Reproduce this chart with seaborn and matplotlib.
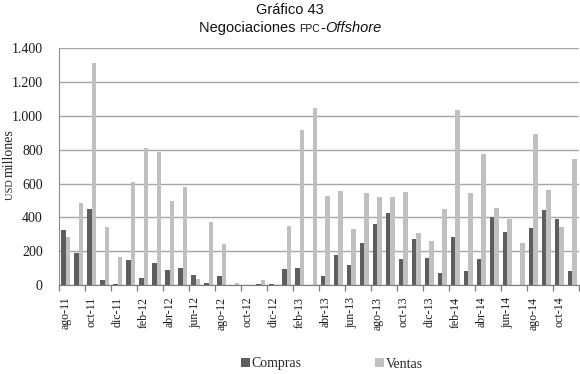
import matplotlib
matplotlib.use("Agg")
import matplotlib.pyplot as plt
import seaborn as sns
import pandas as pd
import numpy as np
from matplotlib.ticker import FixedLocator, FuncFormatter

months = ["ago-11","sep-11","oct-11","nov-11","dic-11","ene-12","feb-12","mar-12","abr-12","may-12",
          "jun-12","jul-12","ago-12","sep-12","oct-12","nov-12","dic-12","ene-13","feb-13","mar-13",
          "abr-13","may-13","jun-13","jul-13","ago-13","sep-13","oct-13","nov-13","dic-13","ene-14",
          "feb-14","mar-14","abr-14","may-14","jun-14","jul-14","ago-14","sep-14","oct-14","nov-14"]
compras = [325,191,447,28,6,148,41,128,87,98,57,10,53,0,0,6,8,93,102,0,
           53,177,116,246,359,425,152,274,158,71,282,81,152,402,313,0,335,441,388,81]
ventas = [284,483,1316,343,164,607,808,784,494,579,38,370,240,14,0,30,0,349,916,1044,
          524,554,331,542,518,522,548,307,260,447,1038,544,774,457,388,250,896,561,345,747]
series_names = ["Compras", "Ventas"]
y_ticks = [0, 200, 400, 600, 800, 1000, 1200, 1400]

sns.set_style("white")
plt.rcParams['font.family'] = ['Liberation Serif', 'DejaVu Serif']

df = pd.DataFrame({
    "mes": months * 2,
    "valor": compras + ventas,
    "serie": [series_names[0]] * len(months) + [series_names[1]] * len(months),
})

W, H = 580, 374
fig = plt.figure(figsize=(W / 100, H / 100), dpi=100)
ax = fig.add_axes([59.3 / W, 1 - 285 / H, (578.7 - 59.3) / W, (285 - 48.3) / H])

sns.barplot(data=df, x="mes", y="valor", hue="serie", order=months, hue_order=series_names,
            palette={"Compras": "#5e5e5e", "Ventas": "#c0c0c0"}, saturation=1, width=0.7,
            linewidth=0, ax=ax, legend=True)
handles, labels = ax.get_legend_handles_labels()
ax.get_legend().remove()

ax.set_xlim(-0.5, len(months) - 0.5)
ax.set_ylim(0, 1400)
ax.yaxis.set_major_locator(FixedLocator(y_ticks))
ax.yaxis.set_major_formatter(FuncFormatter(lambda v, p: f"{int(v):,}".replace(",", ".")))
ax.grid(axis="y", color="#a6a6a6", linewidth=1)
ax.set_axisbelow(True)
for s in ["top", "right"]:
    ax.spines[s].set_visible(False)
ax.spines["left"].set_color("#8c8c8c")
ax.spines["bottom"].set_color("#7a7a7a")
ax.tick_params(axis="y", length=0, pad=12, labelsize=10, labelcolor="#1a1a1a")

# category labels every two months, tick marks at group boundaries
ax.set_xticks(np.arange(0, len(months), 2))
ax.set_xticklabels(months[::2], rotation=90, fontsize=8.6, color="#1a1a1a")
ax.set_xticks(np.arange(-0.5, len(months), 2), minor=True)
ax.tick_params(axis="x", which="major", length=0, pad=8.5)
ax.tick_params(axis="x", which="minor", length=4.5, color="#7a7a7a", width=0.9, bottom=True)
ax.set_xlabel("")
ax.set_ylabel("")

fig.canvas.draw()
renderer = fig.canvas.get_renderer()

def row(pieces, xc, y):
    texts = [fig.text(0, y, s, ha="left", va="baseline", **kw) for s, kw in pieces]
    widths = [t.get_window_extent(renderer).width for t in texts]
    x = xc * W - sum(widths) / 2
    for t, w in zip(texts, widths):
        t.set_x(x / W)
        x += w

def col(pieces, x, y0):
    y = y0 * H
    for s, kw in pieces:
        t = fig.text(x, y / H, s, ha="left", va="baseline", rotation=90,
                     rotation_mode="anchor", **kw)
        y += t.get_window_extent(renderer).height

sans = {"family": ["Liberation Sans", "DejaVu Sans"], "color": "#111111"}
row([("Gráfico 43", dict(fontsize=10.5, **sans))], 0.5, 1 - 14 / H)
row([("Negociaciones ", dict(fontsize=10.5, **sans)),
     ("FPC", dict(fontsize=7.5, **sans)),
     ("-", dict(fontsize=10.5, **sans)),
     ("Offshore", dict(fontsize=10.5, style="italic", **sans))], 0.5, 1 - 32 / H)

col([("USD ", dict(fontsize=7.5, color="#222222")),
     ("millones", dict(fontsize=10, color="#222222"))], 13 / W, 1 - 200 / H)

fig.legend(handles, labels, loc="center", bbox_to_anchor=(332 / W, 10 / H), ncol=2,
           frameon=False, fontsize=10, handlelength=0.6, handleheight=0.6,
           handletextpad=0.15, columnspacing=5.3, borderpad=0.2)

fig.savefig("out.png", dpi=100)
